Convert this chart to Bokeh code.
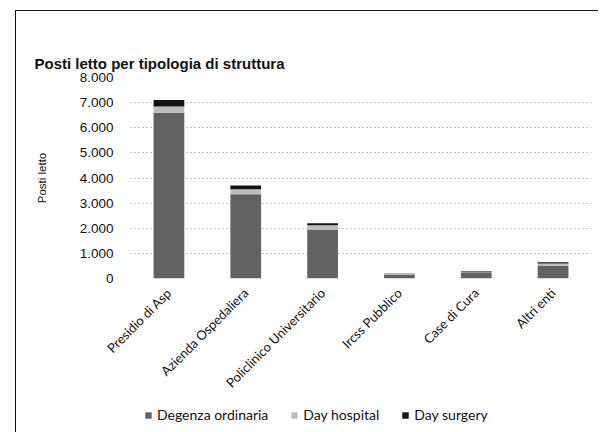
from bokeh.plotting import figure
from bokeh.layouts import column
from bokeh.models import ColumnDataSource, FixedTicker, Legend, LegendItem
from bokeh.embed import file_html
from bokeh.resources import INLINE

categories = ["Presidio di Asp", "Azienda Ospedaliera", "Policlinico Universitario",
              "Ircss Pubblico", "Case di Cura", "Altri enti"]
degenza_ordinaria = [6600, 3350, 1950, 160, 250, 520]
day_hospital = [250, 200, 170, 25, 30, 80]
day_surgery = [250, 150, 80, 15, 20, 50]
series_names = ["Degenza ordinaria", "Day hospital", "Day surgery"]
y_ticks = [0, 1000, 2000, 3000, 4000, 5000, 6000, 7000, 8000]
y_tick_labels = ["0", "1.000", "2.000", "3.000", "4.000", "5.000", "6.000", "7.000", "8.000"]

source = ColumnDataSource(dict(
    cat=categories,
    do=degenza_ordinaria,
    dh=day_hospital,
    ds=day_surgery,
))
colors = ["#626262", "#bdbdbd", "#141414"]
stack_keys = ["do", "dh", "ds"]

p = figure(x_range=categories, y_range=(0, 8000), width=582, height=392,
           output_backend="svg", toolbar_location=None,
           min_border_left=114, min_border_right=7, min_border_top=66,
           min_border_bottom=125)

p.vbar_stack(stack_keys, x="cat", width=0.4, color=colors,
             source=source, line_color=None)

p.title.text = "Posti letto per tipologia di struttura"
p.title.align = "left"
p.title.vertical_align = "middle"
p.title.offset = -96
p.title.standoff = 10
p.title.text_font = "Liberation Sans"
p.title.text_font_size = "15px"
p.title.text_font_style = "bold"
p.title.text_color = "#111111"

p.outline_line_color = None

p.xgrid.grid_line_color = None
p.ygrid.grid_line_color = "#8a8a8a"
p.ygrid.grid_line_dash = "1 3"
p.ygrid.ticker = FixedTicker(ticks=y_ticks)

p.yaxis.ticker = FixedTicker(ticks=y_ticks)
p.yaxis.major_label_overrides = {t: l for t, l in zip(y_ticks, y_tick_labels)}
p.yaxis.axis_line_color = None
p.yaxis.major_tick_line_color = None
p.yaxis.minor_tick_line_color = None
p.yaxis.major_label_standoff = 11
p.yaxis.major_label_text_font = "Liberation Sans"
p.yaxis.major_label_text_font_size = "13.5px"
p.yaxis.major_label_text_color = "#111111"
p.yaxis.axis_label = "Posti letto"
p.yaxis.axis_label_text_font = "Liberation Sans"
p.yaxis.axis_label_text_font_size = "11.5px"
p.yaxis.axis_label_text_font_style = "normal"
p.yaxis.axis_label_text_color = "#111111"
p.yaxis.axis_label_standoff = 29

p.xaxis.axis_line_color = None
p.xaxis.major_tick_line_color = None
p.xaxis.minor_tick_line_color = None
p.xaxis.major_label_orientation = 0.785398
p.xaxis.major_label_standoff = 6
p.xaxis.major_label_text_font = "Lato"
p.xaxis.major_label_text_font_size = "13px"
p.xaxis.major_label_text_color = "#111111"

# legend strip below the chart
pl = figure(x_range=categories, y_range=(100000, 100001), width=582, height=29,
            output_backend="svg", toolbar_location=None, min_border=0)
pl.axis.visible = False
pl.grid.visible = False
pl.outline_line_color = None
rl = pl.vbar_stack(stack_keys, x="cat", width=0.4, color=colors,
                   source=source, line_color=None)
legend = Legend(items=[LegendItem(label=n, renderers=[r]) for n, r in zip(series_names, rl)],
                orientation="horizontal", location=(14, 9))
legend.border_line_color = None
legend.background_fill_alpha = 0
legend.label_text_font = "Lato"
legend.label_text_font_size = "14px"
legend.label_text_color = "#111111"
legend.glyph_width = 8
legend.glyph_height = 8
legend.label_standoff = 5
legend.spacing = 22
legend.padding = 2
legend.margin = 0
pl.add_layout(legend, "center")

lay = column(p, pl, spacing=0, margin=(10, 0, 0, 15),
             styles={"border-left": "1px solid #111111", "border-top": "1px solid #111111"})

open("out.html", "w").write(file_html(lay, INLINE))
